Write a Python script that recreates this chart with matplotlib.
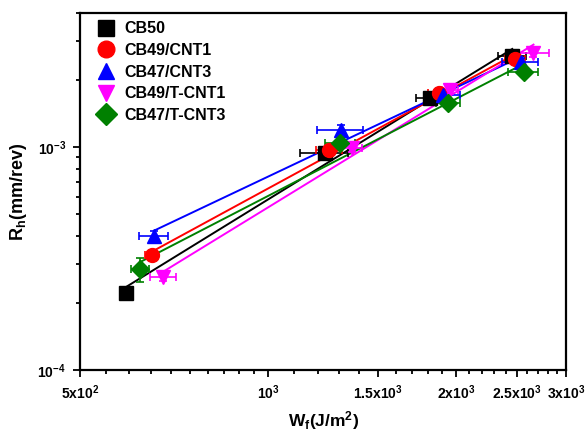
import matplotlib
matplotlib.use("Agg")
import matplotlib.pyplot as plt
import numpy as np
from matplotlib.ticker import FixedLocator, NullFormatter

plt.rcParams["font.family"] = ["Liberation Sans", "DejaVu Sans"]
plt.rcParams["font.weight"] = "bold"
plt.rcParams["mathtext.fontset"] = "custom"
plt.rcParams["mathtext.rm"] = "Liberation Sans:bold"
plt.rcParams["mathtext.it"] = "Liberation Sans:bold"
plt.rcParams["mathtext.bf"] = "Liberation Sans:bold"
plt.rcParams["mathtext.default"] = "rm"

# ---------------------------------------------------------------- dados
labels = ["CB50", "CB49/CNT1", "CB47/CNT3", "CB49/T-CNT1", "CB47/T-CNT3"]
colors = ["black", "red", "blue", "magenta", "green"]
markers = ["s", "o", "^", "v", "D"]

wf_cb50 = [592, 1234, 1817, 2459]
rh_cb50 = [2.22e-4, 9.4e-4, 1.66e-3, 2.57e-3]
xe_cb50 = [10, 110, 90, 125]
ye_cb50 = [0.08e-4, 0.3e-4, 0.5e-4, 0.8e-4]

wf_cnt1 = [651, 1253, 1874, 2485]
rh_cnt1 = [3.28e-4, 9.7e-4, 1.75e-3, 2.49e-3]
xe_cnt1 = [15, 60, 70, 90]
ye_cnt1 = [0.15e-4, 0.3e-4, 0.5e-4, 0.8e-4]

wf_cnt3 = [657, 1307, 1908, 2535]
rh_cnt3 = [3.99e-4, 1.19e-3, 1.71e-3, 2.42e-3]
xe_cnt3 = [35, 110, 120, 170]
ye_cnt3 = [0.2e-4, 0.7e-4, 0.8e-4, 1.0e-4]

wf_tcnt1 = [680, 1361, 1957, 2659]
rh_tcnt1 = [2.62e-4, 9.9e-4, 1.81e-3, 2.64e-3]
xe_tcnt1 = [33, 52, 60, 160]
ye_tcnt1 = [0.1e-4, 0.4e-4, 0.7e-4, 0.9e-4]

wf_tcnt3 = [624, 1305, 1944, 2563]
rh_tcnt3 = [2.83e-4, 1.04e-3, 1.58e-3, 2.18e-3]
xe_tcnt3 = [20, 70, 85, 145]
ye_tcnt3 = [0.35e-4, 0.6e-4, 0.8e-4, 1.2e-4]

series = [
    (wf_cb50, rh_cb50, xe_cb50, ye_cb50),
    (wf_cnt1, rh_cnt1, xe_cnt1, ye_cnt1),
    (wf_cnt3, rh_cnt3, xe_cnt3, ye_cnt3),
    (wf_tcnt1, rh_tcnt1, xe_tcnt1, ye_tcnt1),
    (wf_tcnt3, rh_tcnt3, xe_tcnt3, ye_tcnt3),
]

xticks = [500, 1000, 1500, 2000, 2500, 3000]
xticklabels = [r"5x10$^{2}$", r"10$^{3}$", r"1.5x10$^{3}$", r"2x10$^{3}$",
               r"2.5x10$^{3}$", r"3x10$^{3}$"]
yticks = [1e-4, 1e-3]
yticklabels = [r"10$^{-4}$", r"10$^{-3}$"]

# ---------------------------------------------------------------- figura
fig = plt.figure(figsize=(5.88, 4.34), dpi=100, facecolor="white")
ax = fig.add_axes([0.136, 0.1475, 0.827, 0.8225])
ax.set_xscale("log")
ax.set_yscale("log")

for (x, y, xe, ye), lab, c, m in zip(series, labels, colors, markers):
    x = np.array(x, float); y = np.array(y, float)
    # ajuste de potencia (reta no log-log)
    k, b = np.polyfit(np.log10(x), np.log10(y), 1)
    xf = np.array([x.min(), x.max()])
    ax.plot(xf, 10 ** (k * np.log10(xf) + b), color=c, lw=1.4, zorder=2)
    ax.errorbar(x, y, xerr=xe, yerr=ye, fmt="none", ecolor=c, elinewidth=1.2,
                capsize=3, capthick=1.2, zorder=3)
    ax.plot(x, y, ls="none", marker=m, color=c, ms=10 if m != "D" else 9,
            mec=c, label=lab, zorder=4)

ax.set_xlim(500, 3000)
ax.set_ylim(1e-4, 4e-3)

minor_x = list(range(550, 1000, 50)) + list(range(1100, 3000, 100))
minor_x = [v for v in minor_x if v not in xticks]
ax.xaxis.set_major_locator(FixedLocator(xticks))
ax.xaxis.set_minor_locator(FixedLocator(minor_x))
ax.set_xticklabels(xticklabels)
ax.xaxis.set_minor_formatter(NullFormatter())
ax.yaxis.set_major_locator(FixedLocator(yticks))
ax.set_yticklabels(yticklabels)
minor_y = [k * 1e-4 for k in range(2, 10)] + [2e-3, 3e-3, 4e-3]
ax.yaxis.set_minor_locator(FixedLocator(minor_y))
ax.yaxis.set_minor_formatter(NullFormatter())

ax.tick_params(which="both", direction="out", top=False, right=False,
               labelsize=10, width=1.3)
ax.tick_params(which="major", length=5, pad=5)
ax.tick_params(which="minor", length=3)
for s in ax.spines.values():
    s.set_linewidth(1.6)

ax.set_xlabel(r"W$_{f}$(J/m$^{2}$)", fontsize=12.5, fontweight="bold", labelpad=5)
ax.set_ylabel(r"R$_{h}$(mm/rev)", fontsize=13, fontweight="bold", labelpad=6)

ax.legend(loc="upper left", frameon=False, fontsize=11.5, handletextpad=0.6,
          labelspacing=0.42, borderaxespad=0.0, handlelength=1.2,
          markerscale=1.2, bbox_to_anchor=(0.02, 0.995))

fig.savefig("out.png", dpi=100, facecolor="white")
